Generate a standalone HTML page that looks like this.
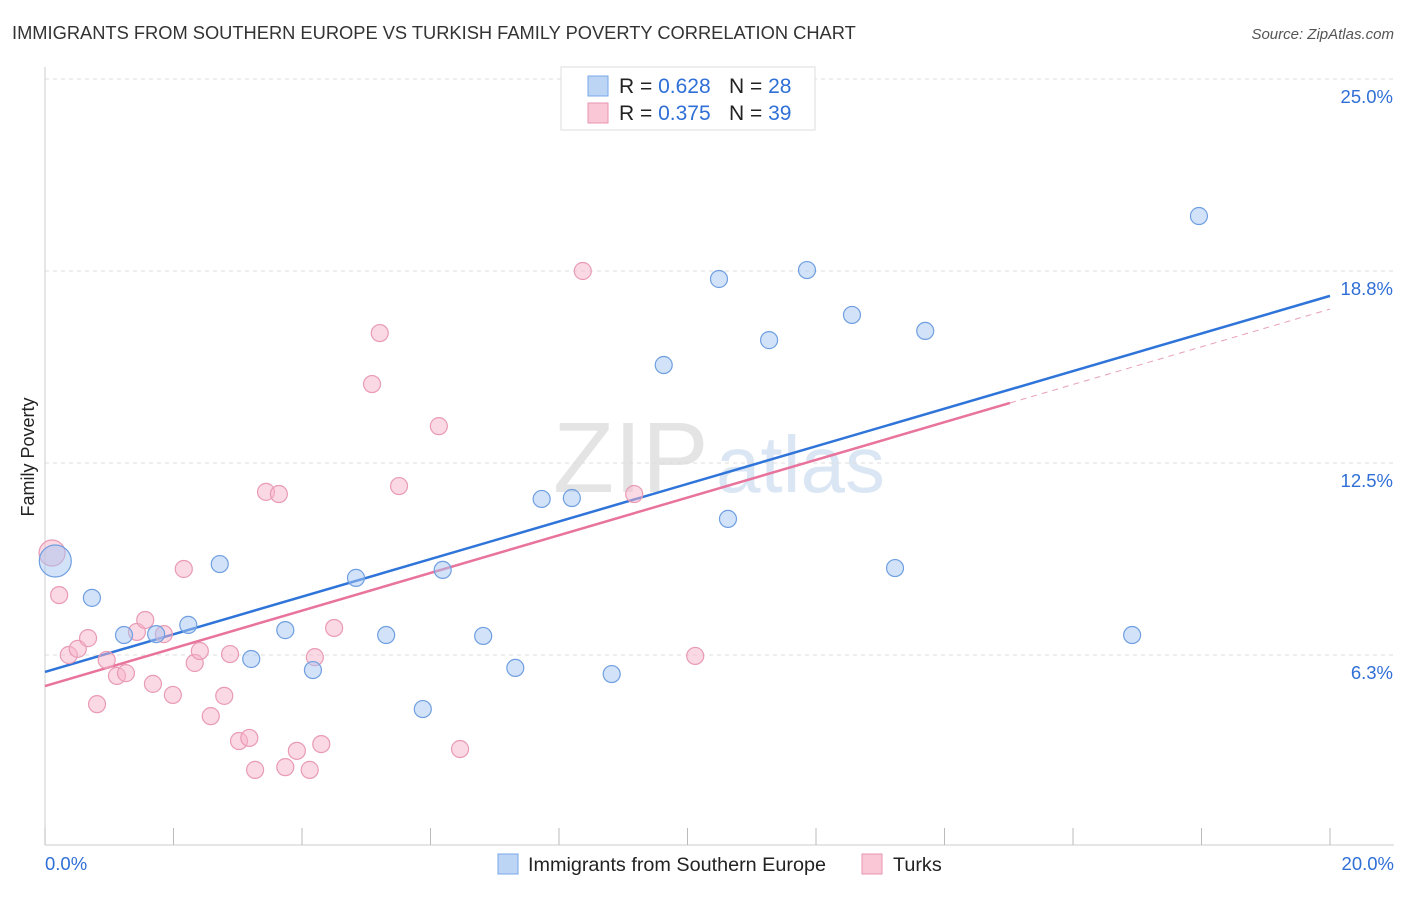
<!DOCTYPE html>
<html><head><meta charset="utf-8"><style>
body{margin:0;background:#fff;font-family:"Liberation Sans",sans-serif;}
svg text{font-family:"Liberation Sans",sans-serif;}
</style></head><body>
<svg id="chart" width="1406" height="892" xmlns="http://www.w3.org/2000/svg">
<text x="12" y="39" font-size="18.3" fill="#333">IMMIGRANTS FROM SOUTHERN EUROPE VS TURKISH FAMILY POVERTY CORRELATION CHART</text>
<text x="1394" y="39" font-size="15" fill="#555" font-style="italic" text-anchor="end">Source: ZipAtlas.com</text>
<text x="34" y="457" font-size="18" fill="#222" transform="rotate(-90 34 457)" text-anchor="middle">Family Poverty</text>
<g>
<text x="553" y="492" font-size="100" fill="#e4e4e4" font-family="Liberation Serif">ZIP</text>
<text x="716" y="492" font-size="80" fill="#dbe6f4">atlas</text>
</g>
<g id="grid"></g><g id="axes"></g><g id="lines"></g><g id="pts"></g>
<g>
<rect x="561" y="67" width="254" height="63" fill="#fff" stroke="#ddd"/>
<rect x="588" y="76" width="20" height="20" fill="#bcd5f5" stroke="#7aa8e8"/>
<text x="619" y="93" font-size="21" fill="#222">R = <tspan fill="#2f6fd6">0.628</tspan></text>
<text x="729" y="93" font-size="21" fill="#222">N = <tspan fill="#2f6fd6">28</tspan></text>
<rect x="588" y="103" width="20" height="20" fill="#f9c7d6" stroke="#e896b0"/>
<text x="619" y="120" font-size="21" fill="#222">R = <tspan fill="#2f6fd6">0.375</tspan></text>
<text x="729" y="120" font-size="21" fill="#222">N = <tspan fill="#2f6fd6">39</tspan></text>
</g>
<g>
<rect x="498" y="854" width="20" height="20" fill="#bcd5f5" stroke="#7aa8e8"/>
<text x="528" y="871" font-size="19.8" fill="#222">Immigrants from Southern Europe</text>
<rect x="862" y="854" width="20" height="20" fill="#f9c7d6" stroke="#e896b0"/>
<text x="893" y="871" font-size="19.8" fill="#222">Turks</text>
</g>
</svg>
<script>
const yTicks=[6.25,12.5,18.75,25];
const yTickLabels=["6.3%","12.5%","18.8%","25.0%"];
const xEndLabels=["0.0%","20.0%"];
const blueX=[0.16,0.73,1.23,1.73,2.23,2.72,3.21,3.74,4.17,4.84,5.31,5.88,6.19,6.82,7.32,7.73,8.20,8.82,9.63,10.49,10.63,11.27,11.86,12.56,13.23,13.70,16.92,17.96];
const blueY=[9.31,8.11,6.90,6.93,7.23,9.21,6.12,7.06,5.76,8.76,6.90,4.49,9.02,6.87,5.83,11.33,11.36,5.63,15.69,18.49,10.68,16.50,18.78,17.32,9.08,16.80,6.90,20.54];
const pinkX=[0.11,0.22,0.37,0.51,0.67,0.81,0.96,1.12,1.26,1.43,1.56,1.68,1.85,1.99,2.16,2.33,2.41,2.58,2.79,2.88,3.02,3.18,3.27,3.44,3.64,3.74,3.92,4.12,4.20,4.30,4.50,5.09,5.21,5.51,6.13,6.46,8.37,9.17,10.12];
const pinkY=[9.57,8.20,6.25,6.45,6.80,4.65,6.09,5.57,5.66,7.00,7.39,5.31,6.93,4.95,9.05,5.99,6.38,4.26,4.92,6.28,3.45,3.55,2.51,11.56,11.49,2.60,3.13,2.51,6.18,3.35,7.13,15.07,16.73,11.75,13.70,3.19,18.75,11.49,6.22];
const blueTrend=[5.70,17.94];
const pinkTrend=[5.24,17.51];
const pinkSolidEnd=15.02;
const NS="http://www.w3.org/2000/svg";
const sx=v=>45+v*64.25, sy=v=>847-v*30.72;
function mk(tag,attrs,parent){const e=document.createElementNS(NS,tag);for(const k in attrs)e.setAttribute(k,attrs[k]);document.getElementById(parent).appendChild(e);return e;}
yTicks.forEach((t,i)=>{
 const g=mk('line',{x1:45,x2:1394,y1:sy(t),y2:sy(t),stroke:'#ddd','stroke-dasharray':'4,4'},'grid');
 
 
 const l=mk('text',{x:1393,y:sy(t)+24,'font-size':18.5,fill:'#2f6fd6','text-anchor':'end'},'grid');
 l.textContent=yTickLabels[i];
 
 
});
const topGrid=mk('line',{x1:45,x2:1394,y1:79,y2:79,stroke:'#ddd','stroke-dasharray':'4,4'},'grid');


const ya=mk('line',{x1:45,x2:45,y1:67,y2:845,stroke:'#ccc'},'axes');


const xa=mk('line',{x1:45,x2:1394,y1:845,y2:845,stroke:'#ccc'},'axes');


for(let i=0;i<=10;i++){
 const t=mk('line',{x1:sx(i*2),x2:sx(i*2),y1:828,y2:845,stroke:'#bbb'},'axes');
 
 
}
[[0,'start'],[20,'end']].forEach((p,i)=>{
 const t=mk('text',{x:i?1394:45,y:870,'font-size':18.5,fill:'#2f6fd6','text-anchor':p[1]},'axes');
 t.textContent=xEndLabels[i];
 
 
});
const bl=mk('line',{x1:sx(0),y1:sy(blueTrend[0]),x2:sx(20),y2:sy(blueTrend[1]),stroke:'#2f74d8','stroke-width':2.5},'lines');


const pm=v=>pinkTrend[0]+(pinkTrend[1]-pinkTrend[0])*v/20;
const pl=mk('line',{x1:sx(0),y1:sy(pinkTrend[0]),x2:sx(pinkSolidEnd),y2:sy(pm(pinkSolidEnd)),stroke:'#e8739c','stroke-width':2.5},'lines');


const pd=mk('line',{x1:sx(pinkSolidEnd),y1:sy(pm(pinkSolidEnd)),x2:sx(20),y2:sy(pinkTrend[1]),stroke:'#e8a0b8','stroke-width':1,'stroke-dasharray':'6,5'},'lines');


pinkX.forEach((x,i)=>{
 const c=mk('circle',{cx:sx(x),cy:sy(pinkY[i]),r:i==0?13:8.5,fill:'rgba(246,180,202,0.5)',stroke:'#e99ab4','stroke-width':1.2},'pts');
 
 
});
blueX.forEach((x,i)=>{
 const c=mk('circle',{cx:sx(x),cy:sy(blueY[i]),r:i==0?16:8.5,fill:'rgba(165,198,242,0.5)',stroke:'#6f9fe0','stroke-width':1.2},'pts');
 
 
});
</script>
</body></html>
